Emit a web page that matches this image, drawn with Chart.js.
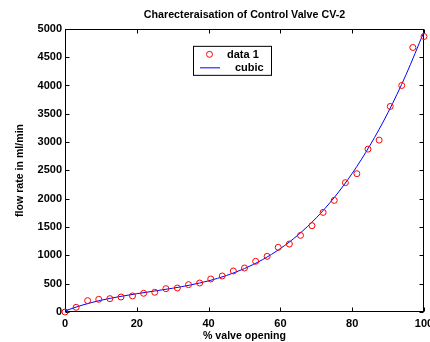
<!DOCTYPE html>
<html>
<head>
<meta charset="utf-8">
<script src="https://cdn.jsdelivr.net/npm/chart.js@4/dist/chart.umd.min.js"></script>
<style>
html, body { margin: 0; padding: 0; background: #fff; }
#zone { width: 430px; height: 342px; }
</style>
</head>
<body>
<div id="zone"><canvas id="graphique-vanne"></canvas></div>
<script>
// Mesures : ouverture de la vanne (%) et débit relevé (ml/min)
const ouverture = [0, 3.1, 6.3, 9.4, 12.5, 15.6, 18.8, 21.9, 25, 28.1, 31.3, 34.4, 37.5, 40.6, 43.8, 46.9, 50,
	53.1, 56.3, 59.4, 62.5, 65.6, 68.8, 71.9, 75, 78.1, 81.3, 84.4, 87.5, 90.6, 93.8, 96.9, 100];
const debit = [0, 83, 201, 224, 236, 265, 283, 330, 348, 412, 424, 483, 512, 583, 636, 724, 777,
	895, 983, 1142, 1200, 1353, 1524, 1759, 1971, 2283, 2442, 2876, 3035, 3630, 4000, 4671, 4865];

// Courbe d'ajustement cubique, relevée tous les 5 %
const ouvertureCubique = [0, 5, 10, 15, 20, 25, 30, 35, 40, 45, 50, 55, 60, 65, 70, 75, 80, 85, 90, 95, 100];
const debitCubique = [20, 125, 207, 270, 323, 371, 420, 478, 550, 645, 767, 923, 1120, 1365, 1663, 2022,
	2448, 2947, 3525, 4191, 4950];

// Graduations des axes
const graduationsX = [0, 20, 40, 60, 80, 100];
const graduationsY = [0, 500, 1000, 1500, 2000, 2500, 3000, 3500, 4000, 4500, 5000];

const police = "'Liberation Sans', Arial, Helvetica, sans-serif";

// Taille fixe des axes, sans marge automatique pour les étiquettes qui débordent
function figerAxe(s, dim, taille) {
	s[dim] = taille;
	s.paddingLeft = 0;
	s.paddingRight = 0;
	s.paddingTop = 0;
	s.paddingBottom = 0;
}

// Cadre noir autour de la zone de tracé avec des graduations tournées vers l'intérieur
const cadre = {
	id: "cadre",
	beforeDatasetsDraw(chart) {
		const { ctx, chartArea: a, scales } = chart;
		const l = Math.round(a.left) + 0.5, r = Math.round(a.right) - 0.5;
		const t = Math.round(a.top) + 0.5, b = Math.round(a.bottom) - 0.5;
		const lg = 4;
		ctx.save();
		ctx.strokeStyle = "#000";
		ctx.lineWidth = 1;
		ctx.strokeRect(l, t, r - l, b - t);
		ctx.beginPath();
		for (const v of graduationsX) {
			const px = Math.round(scales.x.getPixelForValue(v)) + 0.5;
			ctx.moveTo(px, b); ctx.lineTo(px, b - lg);
			ctx.moveTo(px, t); ctx.lineTo(px, t + lg);
		}
		for (const v of graduationsY) {
			const py = Math.round(scales.y.getPixelForValue(v)) + 0.5;
			ctx.moveTo(l, py); ctx.lineTo(l + lg, py);
			ctx.moveTo(r, py); ctx.lineTo(r - lg, py);
		}
		ctx.stroke();
		ctx.restore();
	}
};

// Légende encadrée placée dans la zone de tracé
const legende = {
	id: "legende",
	afterDraw(chart) {
		const { ctx, chartArea: a } = chart;
		const x0 = a.left + 128, y0 = a.top + 17;
		const w = 78, h = 29;
		ctx.save();
		ctx.fillStyle = "#fff";
		ctx.fillRect(x0, y0, w, h);
		ctx.strokeStyle = "#000";
		ctx.lineWidth = 1;
		ctx.strokeRect(x0 + 0.5, y0 + 0.5, w, h);

		const mesures = chart.data.datasets[0];
		const cubique = chart.data.datasets[1];
		// Entrée "data 1" : cercle rouge
		ctx.beginPath();
		ctx.arc(x0 + 16.5, y0 + 8.5, 3, 0, Math.PI * 2);
		ctx.strokeStyle = mesures.borderColor;
		ctx.stroke();
		// Entrée "cubic" : trait bleu
		ctx.beginPath();
		ctx.moveTo(x0 + 7, y0 + 22);
		ctx.lineTo(x0 + 27, y0 + 22);
		ctx.strokeStyle = cubique.borderColor;
		ctx.stroke();

		ctx.fillStyle = "#000";
		ctx.font = "bold 11px " + police;
		ctx.textBaseline = "middle";
		ctx.fillText(mesures.label, x0 + 34, y0 + 9);
		ctx.fillText(cubique.label, x0 + 42, y0 + 22);
		ctx.restore();
	}
};

const data = {
	datasets: [{
		type: "scatter",
		label: "data 1",
		data: ouverture.map((x, i) => ({ x: x, y: debit[i] })),
		borderColor: "#ff0000",
		backgroundColor: "rgba(0,0,0,0)",
		pointStyle: "circle",
		pointRadius: 3,
		borderWidth: 1,
		clip: false,
		order: 1,
	}, {
		type: "line",
		label: "cubic",
		data: ouvertureCubique.map((x, i) => ({ x: x, y: debitCubique[i] })),
		borderColor: "#0000ff",
		borderWidth: 1,
		pointRadius: 0,
		cubicInterpolationMode: "monotone",
		fill: false,
		clip: false,
		order: 2,
	}],
};

const config = {
	data: data,
	options: {
		responsive: true,
		maintainAspectRatio: false,
		animation: false,
		events: [],
		layout: { autoPadding: false, padding: { left: 0, right: 6, top: 0, bottom: 0 } },
		plugins: {
			legend: { display: false },
			tooltip: { enabled: false },
			title: {
				display: true,
				fullSize: false,
				text: "Charecteraisation of Control Valve CV-2",
				color: "#000",
				font: { family: police, size: 10.7, weight: "bold" },
				padding: { top: 9, bottom: 7 },
			},
		},
		scales: {
			x: {
				type: "linear",
				min: 0,
				max: 100,
				afterBuildTicks: (s) => { s.ticks = graduationsX.map(v => ({ value: v })); },
				afterFit: (s) => figerAxe(s, "height", 30),
				grid: { display: false, drawTicks: false },
				border: { display: false },
				ticks: {
					color: "#000",
					padding: 5,
					maxRotation: 0,
					font: { family: police, size: 11, weight: "bold" },
					callback: (v) => String(v),
				},
				title: {
					display: true,
					text: "% valve opening",
					color: "#000",
					font: { family: police, size: 10.6, weight: "bold" },
					padding: { top: 0, bottom: 0 },
				},
			},
			y: {
				type: "linear",
				min: 0,
				max: 5000,
				afterBuildTicks: (s) => { s.ticks = graduationsY.map(v => ({ value: v })); },
				afterFit: (s) => figerAxe(s, "width", 65),
				grid: { display: false, drawTicks: false },
				border: { display: false },
				ticks: {
					color: "#000",
					padding: 3,
					font: { family: police, size: 11, weight: "bold" },
					callback: (v) => String(v),
				},
				title: {
					display: true,
					text: "flow rate in ml/min",
					color: "#000",
					font: { family: police, size: 10.6, weight: "bold" },
					padding: { top: 14, bottom: 0 },
				},
			},
		},
	},
	plugins: [cadre, legende],
};

const graphiqueVanne = new Chart(document.querySelector("#graphique-vanne"), config);
</script>
</body>
</html>
